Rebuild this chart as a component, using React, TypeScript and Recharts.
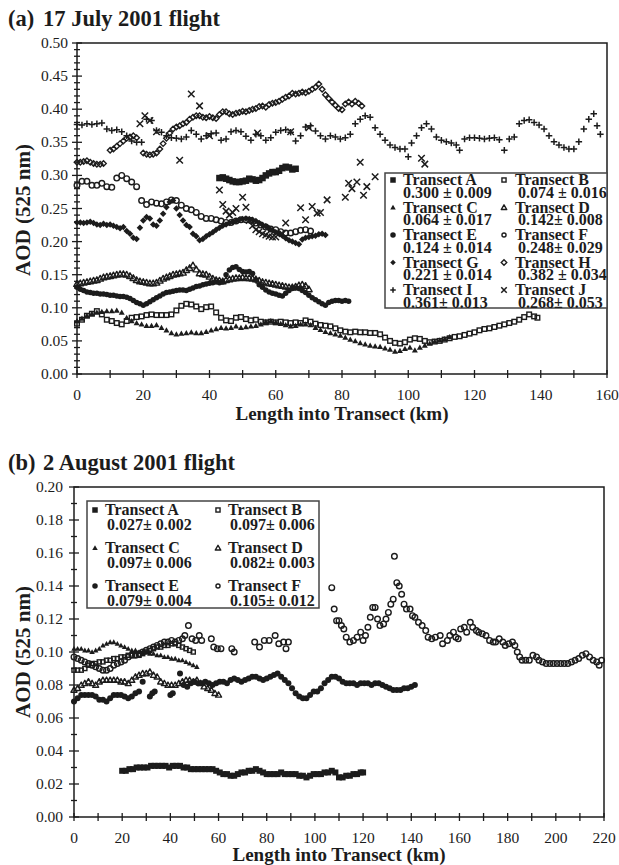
import { ReferenceArea, Scatter, ScatterChart, XAxis, YAxis } from "recharts";

type Pt = [number, number];
type Kind = "sq" | "osq" | "tri" | "otri" | "dot" | "odot" | "dia" | "odia" | "plus" | "cross";

const INK = "#1c1c1c";
const SERIF = '"Liberation Serif", "Times New Roman", serif';

// 17 July 2001: [km into transect, AOD at 525 nm]
const julyA: Pt[] = [[43,.296],[44,.297],[45,.295],[46,.293],[47,.291],[48,.29],[49,.29],[50,.291],[51,.292],[52,.295],[53,.294],[54,.292],[55,.293],[56,.296],[57,.3],[58,.303],[59,.305],[60,.305],[61,.307],[62,.311],[63,.313],[64,.312],[65,.309],[66,.31]];
const julyB: Pt[] = [[0,.076],[1.5,.082],[3,.088],[4.5,.091],[6,.095],[7.5,.09],[9,.082],[10.5,.08],[12,.077],[13.5,.075],[15,.08],[16.5,.085],[18,.086],[19.5,.087],[21,.089],[22.5,.09],[24,.089],[25.5,.089],[27,.089],[28.5,.09],[30,.096],[31.5,.103],[33,.106],[34.5,.105],[36,.102],[37.5,.098],[39,.101],[40.5,.102],[42,.093],[43.5,.085],[45,.081],[46.5,.08],[48,.085],[49.5,.086],[51,.083],[52.5,.081],[54,.082],[55.5,.079],[57,.078],[58.5,.079],[60,.078],[61.5,.079],[63,.078],[64.5,.077],[66,.078],[67.5,.077],[69,.081],[70.5,.079],[72,.076],[73.5,.074],[75,.073],[76.5,.072],[78,.069],[79.5,.066],[81,.064],[82.5,.063],[84,.064],[85.5,.063],[87,.063],[88.5,.062],[90,.062],[91.5,.06],[93,.055],[94.5,.05],[96,.047],[97.5,.046],[99,.048],[100.5,.052],[102,.054],[103.5,.053],[105,.05],[106.5,.048],[108,.049],[109.5,.05],[111,.052],[112.5,.054],[114,.056],[115.5,.057],[117,.059],[118.5,.061],[120,.063],[121.5,.066],[123,.068],[124.5,.069],[126,.071],[127.5,.073],[129,.075],[130.5,.077],[132,.079],[133.5,.082],[135,.086],[136.5,.09],[138,.087],[139,.085]];
const julyC: Pt[] = [[0,.08],[1.5,.084],[3,.088],[4.5,.091],[6,.093],[7.5,.094],[9,.095],[10.5,.095],[12,.096],[13.5,.093],[15,.085],[16.5,.08],[18,.077],[19.5,.075],[21,.073],[22.5,.073],[24,.074],[25.5,.07],[27,.066],[28.5,.062],[30,.06],[31.5,.061],[33,.062],[34.5,.063],[36,.062],[37.5,.062],[39,.064],[40.5,.066],[42,.068],[43.5,.07],[45,.069],[46.5,.07],[48,.072],[49.5,.07],[51,.071],[52.5,.072],[54,.073],[55.5,.075],[57,.079],[58.5,.08],[60,.078],[61.5,.076],[63,.074],[64.5,.072],[66,.073],[67.5,.075],[69,.075],[70.5,.074],[72,.07],[73.5,.067],[75,.064],[76.5,.062],[78,.06],[79.5,.058],[81,.055],[82.5,.052],[84,.05],[85.5,.047],[87,.045],[88.5,.043],[90,.042],[91.5,.041],[93,.039],[94.5,.037],[96,.034],[97.5,.035],[99,.038],[100.5,.04],[102,.036],[103.5,.04],[105,.043],[106.5,.046],[108,.049],[109.5,.051],[111,.053],[112.5,.056]];
const julyD: Pt[] = [[0,.136],[1,.137],[2,.138],[3,.139],[4,.14],[5,.141],[6,.142],[7,.144],[8,.146],[9,.147],[10,.148],[11,.149],[12,.15],[13,.151],[14,.151],[15,.15],[16,.148],[17,.145],[18,.142],[19,.14],[20,.139],[21,.138],[22,.137],[23,.137],[24,.138],[25,.141],[26,.144],[27,.146],[28,.148],[29,.15],[30,.151],[31,.152],[32,.153],[33,.157],[34,.16],[35,.164],[36,.158],[37,.152],[38,.151],[39,.15],[40,.147],[41,.144],[42,.142],[43,.141],[44,.14],[45,.142],[46,.143],[47,.144],[48,.145],[49,.145],[50,.146],[51,.145],[52,.145],[53,.144],[54,.143],[55,.141],[56,.139],[57,.138],[58,.137],[59,.136],[60,.135],[61,.134],[62,.133],[63,.132],[64,.131],[65,.131],[66,.132],[67,.134],[68,.135],[69,.133],[70,.128]];
const julyE: Pt[] = [[0,.131],[1,.128],[2,.126],[3,.124],[4,.123],[5,.122],[6,.122],[7,.121],[8,.121],[9,.12],[10,.119],[11,.119],[12,.118],[13,.117],[14,.117],[15,.116],[16,.114],[17,.111],[18,.108],[19,.106],[20,.104],[21,.106],[22,.109],[23,.112],[24,.115],[25,.118],[26,.121],[27,.123],[28,.124],[29,.125],[30,.126],[31,.127],[32,.127],[33,.126],[34,.128],[35,.13],[36,.132],[37,.133],[38,.135],[39,.136],[40,.137],[41,.138],[42,.139],[43,.138],[44,.139],[45,.15],[46,.157],[47,.161],[48,.162],[49,.158],[50,.155],[51,.154],[52,.155],[53,.152],[54,.142],[55,.135],[56,.131],[57,.127],[58,.124],[59,.122],[60,.121],[61,.119],[62,.118],[63,.122],[64,.126],[65,.129],[66,.13],[67,.129],[68,.126],[69,.123],[70,.119],[71,.115],[72,.112],[73,.109],[74,.106],[75,.104],[76,.108],[77,.11],[78,.111],[79,.111],[80,.11],[81,.111],[82,.11]];
const julyF: Pt[] = [[0,.285],[1.5,.291],[3,.291],[4.5,.285],[6,.285],[7.5,.288],[9,.283],[10.5,.282],[12,.296],[13.5,.3],[15,.295],[16.5,.29],[18,.283],[19.5,.262],[21,.256],[22.5,.26],[24,.258],[25.5,.257],[27,.26],[28.5,.263],[30,.262],[31.5,.255],[33,.25],[34.5,.248],[36,.244],[37.5,.238],[39,.235],[40.5,.235],[42,.233],[43.5,.231],[45,.229],[46.5,.229],[48,.231],[49.5,.233],[51,.233],[52.5,.232],[54,.228],[55.5,.225],[57,.222],[58.5,.219],[60,.218],[61.5,.215],[63,.213],[64.5,.213],[66,.215],[67.5,.217],[69,.218],[70.5,.216]];
const julyG: Pt[] = [[0,.229],[1,.229],[2,.228],[3,.229],[4,.23],[5,.228],[6,.226],[7,.225],[8,.227],[9,.225],[10,.226],[11,.224],[12,.222],[13,.22],[14,.222],[15,.216],[16,.212],[17,.206],[18,.204],[19,.221],[20,.232],[21,.237],[22,.235],[23,.226],[24,.224],[25,.232],[26,.242],[27,.252],[28,.26],[29,.262],[30,.25],[31,.24],[32,.232],[33,.225],[34,.222],[35,.212],[36,.208],[37,.202],[38,.204],[39,.208],[40,.211],[41,.214],[42,.218],[43,.221],[44,.224],[45,.226],[46,.228],[47,.23],[48,.231],[49,.233],[50,.234],[51,.235],[52,.234],[53,.233],[54,.231],[55,.228],[56,.225],[57,.223],[58,.22],[59,.217],[60,.214],[61,.212],[62,.209],[63,.205],[64,.202],[65,.2],[66,.198],[67,.196],[68,.203],[69,.206],[70,.207],[71,.208],[72,.209],[73,.211],[74,.212],[75,.21]];
const julyH: Pt[] = [[0,.32],[1,.32],[2,.321],[3,.322],[4,.32],[5,.318],[6,.317],[7,.317],[8,.318],[10,.338],[11,.34],[12,.344],[13,.348],[14,.352],[15,.356],[16,.358],[17,.36],[18,.357],[20,.334],[21,.332],[22,.331],[23,.332],[24,.334],[25,.34],[26,.348],[27,.356],[28,.364],[29,.37],[30,.373],[31,.375],[32,.378],[33,.38],[34,.385],[35,.388],[36,.39],[37,.39],[38,.388],[39,.387],[40,.389],[41,.387],[42,.386],[43,.392],[44,.396],[45,.396],[46,.393],[47,.392],[48,.394],[49,.395],[50,.397],[51,.396],[52,.398],[53,.4],[54,.401],[55,.404],[56,.405],[57,.403],[58,.407],[59,.409],[60,.41],[61,.412],[62,.415],[63,.418],[64,.42],[65,.424],[66,.423],[67,.424],[68,.426],[69,.425],[70,.427],[71,.43],[72,.433],[73,.438],[74,.43],[75,.422],[76,.416],[77,.411],[78,.406],[79,.401],[80,.399],[81,.408],[82,.411],[83,.408],[84,.412],[85,.409],[86,.405]];
const julyI: Pt[] = [[0,.377],[1.5,.376],[3,.378],[4.5,.377],[6,.378],[7.5,.379],[9,.37],[10.5,.368],[12,.369],[13.5,.366],[15,.36],[16.5,.352],[18,.35],[19.5,.35],[21,.385],[22.5,.383],[24,.368],[25.5,.365],[27,.36],[28.5,.357],[30,.356],[31.5,.355],[33,.358],[34.5,.368],[36,.362],[37.5,.355],[39,.36],[40.5,.363],[42,.364],[43.5,.353],[45,.355],[46.5,.366],[48,.368],[49.5,.366],[51,.359],[52.5,.353],[54,.362],[55.5,.36],[57,.353],[58.5,.357],[60,.365],[61.5,.368],[63,.369],[64.5,.365],[66,.352],[67.5,.36],[69,.373],[70.5,.375],[72,.367],[73.5,.36],[75,.355],[76.5,.36],[78,.358],[79.5,.355],[81,.357],[82.5,.362],[84,.378],[85.5,.385],[87,.39],[88.5,.388],[90,.372],[91.5,.362],[93,.353],[94.5,.346],[96,.342],[97.5,.34],[99,.34],[100,.328],[101,.349],[102.5,.36],[104,.372],[105.5,.378],[107,.37],[108.5,.358],[110,.353],[111.5,.351],[113,.349],[114.5,.346],[115.5,.338],[117,.355],[118.5,.357],[120,.357],[121.5,.356],[123,.355],[124.5,.356],[126,.357],[127.5,.354],[129,.338],[130.5,.355],[132,.358],[133.5,.378],[135,.383],[136.5,.384],[138,.38],[139.5,.376],[141,.37],[142.5,.36],[144,.351],[145.5,.346],[147,.342],[148.5,.34],[150,.34],[151.5,.351],[153,.37],[154.5,.385],[156,.393],[157,.375],[158,.362]];
const julyJ: Pt[] = [[19,.378],[20.5,.39],[22,.383],[24,.366],[31,.323],[34.5,.423],[37,.405],[40,.36],[43,.278],[44,.256],[45,.246],[46,.24],[47,.244],[48,.25],[50,.267],[51,.252],[52,.232],[53,.224],[54,.218],[54.5,.364],[55,.215],[56,.212],[57,.21],[58,.208],[59,.207],[60,.207],[62,.212],[63,.228],[64.5,.366],[67.5,.251],[69,.233],[70,.372],[71,.253],[72.5,.243],[73.5,.244],[75.5,.263],[81,.267],[82,.288],[83,.28],[84.5,.29],[85.5,.32],[86.5,.27],[87.5,.283],[90,.298],[104,.326],[105,.317]];

// 2 August 2001
const augA: Pt[] = [[20,.028],[21.5,.028],[23,.029],[24.5,.029],[26,.03],[27.5,.03],[29,.03],[30.5,.03],[32,.031],[33.5,.031],[35,.031],[36.5,.031],[38,.031],[39.5,.03],[41,.031],[42.5,.031],[44,.031],[45.5,.03],[47,.03],[48.5,.029],[50,.029],[51.5,.029],[53,.029],[54.5,.029],[56,.029],[57.5,.029],[59,.028],[60.5,.027],[62,.026],[63.5,.026],[65,.025],[66.5,.025],[68,.026],[69.5,.027],[71,.027],[72.5,.028],[74,.028],[75.5,.029],[77,.028],[78.5,.027],[80,.026],[81.5,.026],[83,.026],[84.5,.026],[86,.027],[87.5,.026],[89,.026],[90.5,.026],[92,.026],[93.5,.025],[95,.025],[96.5,.024],[98,.025],[99.5,.026],[101,.026],[102.5,.026],[104,.027],[105.5,.027],[107,.028],[108.5,.027],[110,.024],[111.5,.024],[113,.025],[114.5,.025],[116,.026],[117.5,.026],[119,.027],[120,.027]];
const augB: Pt[] = [[0,.089],[1.5,.089],[3,.089],[4.5,.09],[6,.092],[7.5,.093],[9,.093],[10.5,.094],[12,.094],[13.5,.095],[15,.095],[16.5,.096],[18,.096],[19.5,.097],[21,.097],[22.5,.098],[24,.098],[25.5,.098],[27,.098],[28.5,.099],[30,.1],[31.5,.101],[33,.102],[34.5,.103],[36,.103],[37.5,.104],[39,.104],[40.5,.105],[42,.105],[43.5,.104],[45,.103],[46.5,.102],[48,.101],[49.5,.1]];
const augC: Pt[] = [[0,.102],[1.5,.102],[3,.102],[4.5,.101],[6,.101],[7.5,.1],[9,.101],[10.5,.102],[12,.104],[13.5,.105],[15,.106],[16.5,.106],[18,.105],[19.5,.104],[21,.103],[22.5,.102],[24,.101],[25.5,.101],[27,.1],[28.5,.1],[30,.1],[31.5,.099],[33,.099],[34.5,.098],[36,.098],[37.5,.097],[39,.097],[40.5,.096],[42,.096],[43.5,.095],[45,.095],[46.5,.094],[48,.093],[49.5,.092],[51,.091]];
const augD: Pt[] = [[0,.077],[1.5,.078],[3,.08],[4.5,.081],[6,.082],[7.5,.081],[9,.08],[10.5,.082],[12,.083],[13.5,.083],[15,.083],[16.5,.083],[18,.083],[19.5,.082],[21,.082],[22.5,.081],[24,.083],[25.5,.085],[27,.086],[28.5,.087],[30,.087],[31.5,.088],[33,.086],[34.5,.085],[36,.082],[37.5,.081],[39,.08],[40.5,.08],[42,.08],[43.5,.081],[45,.082],[46.5,.083],[48,.083],[49.5,.082],[51,.083],[52.5,.081],[54,.079],[55.5,.078],[57,.077],[58.5,.075],[60,.074]];
const augE: Pt[] = [[0,.07],[1.5,.072],[3,.074],[4.5,.074],[6,.074],[7.5,.074],[9,.073],[10.5,.071],[12,.071],[13.5,.07],[15,.072],[16.5,.074],[18,.074],[19.5,.074],[21,.073],[22.5,.072],[24,.073],[25.5,.075],[27,.076],[28.5,.082],[31.5,.073],[32.5,.075],[33.5,.076],[40,.074],[41,.075],[44,.087],[45.5,.08],[47,.079],[48.5,.081],[50,.082],[51.5,.081],[53,.081],[54.5,.082],[56,.081],[57.5,.08],[59,.081],[60.5,.082],[62,.082],[63.5,.081],[65,.083],[66.5,.084],[68,.083],[69.5,.082],[71,.083],[72.5,.084],[74,.085],[75.5,.085],[77,.084],[78.5,.083],[80,.084],[81.5,.085],[83,.086],[84.5,.087],[86,.085],[87.5,.083],[89,.081],[90.5,.078],[92,.075],[93.5,.073],[95,.072],[96.5,.072],[98,.074],[99.5,.076],[101,.076],[102.5,.078],[104,.081],[105.5,.083],[107,.085],[108.5,.085],[110,.084],[111.5,.082],[113,.081],[114.5,.081],[116,.081],[117.5,.08],[119,.081],[120.5,.081],[122,.081],[123.5,.08],[125,.081],[126.5,.081],[128,.08],[129.5,.079],[131,.078],[132.5,.077],[134,.077],[135.5,.077],[137,.078],[138.5,.078],[140,.079],[141.5,.08]];
const augF: Pt[] = [[0,.097],[1.5,.096],[3,.095],[4.5,.094],[6,.093],[7.5,.092],[9,.091],[10.5,.09],[12,.089],[13.5,.089],[15,.09],[16.5,.092],[18,.093],[19.5,.094],[21,.095],[22.5,.097],[24,.098],[25.5,.098],[27,.099],[28.5,.1],[30,.101],[31.5,.102],[33,.103],[34.5,.104],[36,.105],[37.5,.106],[39,.106],[40.5,.107],[42,.106],[43.5,.107],[45,.108],[46,.11],[47.5,.116],[49,.108],[50.5,.107],[52,.11],[53,.107],[57,.108],[58,.103],[59.5,.102],[61,.102],[65.5,.102],[66.5,.1],[75,.106],[77,.103],[79,.107],[81,.107],[83.5,.11],[85,.105],[87,.106],[88,.102],[89,.106],[107,.139],[108,.126],[109,.119],[110,.119],[111,.116],[112,.114],[113,.109],[114.5,.106],[116,.107],[117.5,.109],[119,.112],[120,.107],[121,.11],[122,.115],[123,.121],[124,.127],[125,.127],[126,.12],[127,.116],[128.5,.117],[129.5,.12],[130.5,.124],[131.5,.129],[132.5,.132],[133,.158],[134,.142],[135,.14],[136,.135],[137,.129],[138,.126],[139.5,.126],[140.5,.122],[141.5,.121],[143,.118],[144.5,.116],[146,.113],[147,.109],[148.5,.108],[150,.109],[152,.11],[153,.105],[155,.107],[156,.11],[157.5,.112],[158.5,.109],[159.5,.108],[160.5,.114],[162,.115],[163,.112],[164.5,.118],[165.5,.115],[167,.113],[168,.112],[169.5,.111],[171,.11],[172.5,.107],[174,.106],[175,.106],[176.5,.108],[178,.106],[179,.104],[180.5,.105],[182,.106],[183,.104],[184,.1],[185,.097],[186,.095],[187.5,.095],[189,.095],[190.5,.098],[192,.097],[193,.095],[194.5,.094],[196,.093],[197.5,.093],[199,.093],[200.5,.093],[202,.093],[203.5,.093],[205,.093],[206.5,.094],[208,.095],[209.5,.096],[211,.098],[212.5,.099],[214,.097],[215.5,.095],[217,.094],[218,.092],[219,.095]];

const julyNames = ["Transect A", "Transect B", "Transect C", "Transect D", "Transect E", "Transect F", "Transect G", "Transect H", "Transect I", "Transect J"];
const julyStats = ["0.300 ± 0.009", "0.074 ± 0.016", "0.064 ± 0.017", "0.142± 0.008", "0.124 ± 0.014", "0.248± 0.029", "0.221 ± 0.014", "0.382 ± 0.034", "0.361± 0.013", "0.268± 0.053"];
const augNames = ["Transect A", "Transect B", "Transect C", "Transect D", "Transect E", "Transect F"];
const augStats = ["0.027± 0.002", "0.097± 0.006", "0.097± 0.006", "0.082± 0.003", "0.079± 0.004", "0.105± 0.012"];

const julyX = [0, 10, 20, 30, 40, 50, 60, 70, 80, 90, 100, 110, 120, 130, 140, 150, 160];
const augX = [0, 10, 20, 30, 40, 50, 60, 70, 80, 90, 100, 110, 120, 130, 140, 150, 160, 170, 180, 190, 200, 210, 220];
const hundredths = (n: number) => Array.from({ length: n + 1 }, (_, i) => i / 100);

const kinds: Kind[] = ["sq", "osq", "tri", "otri", "dot", "odot", "dia", "odia", "plus", "cross"];
const julySizes = [6.5, 6, 6, 6.5, 5.5, 7, 6.5, 5.5, 6.5, 6.5];
const augSizes = [6, 5.5, 5.5, 6, 6, 7];

function Marker({ kind, cx, cy, s }: { kind: Kind; cx: number; cy: number; s: number }) {
  const h = s / 2;
  const sw = 1.4;
  switch (kind) {
    case "sq":
      return <rect x={cx - h} y={cy - h} width={s} height={s} fill={INK} />;
    case "osq":
      return <rect x={cx - h + 0.7} y={cy - h + 0.7} width={s - 1.4} height={s - 1.4} fill="none" stroke={INK} strokeWidth={sw} />;
    case "tri":
    case "otri": {
      const p = `${cx},${cy - h} ${cx + h},${cy + h * 0.75} ${cx - h},${cy + h * 0.75}`;
      return kind === "tri"
        ? <polygon points={p} fill={INK} />
        : <polygon points={p} fill="none" stroke={INK} strokeWidth={sw} strokeLinejoin="round" />;
    }
    case "dot":
      return <circle cx={cx} cy={cy} r={h} fill={INK} />;
    case "odot":
      return <circle cx={cx} cy={cy} r={h - 0.7} fill="none" stroke={INK} strokeWidth={sw} />;
    case "dia":
    case "odia": {
      const p = `${cx},${cy - h} ${cx + h},${cy} ${cx},${cy + h} ${cx - h},${cy}`;
      return kind === "dia"
        ? <polygon points={p} fill={INK} />
        : <polygon points={p} fill="none" stroke={INK} strokeWidth={sw} />;
    }
    case "plus":
      return <path d={`M${cx - h},${cy}H${cx + h}M${cx},${cy - h}V${cy + h}`} stroke={INK} strokeWidth={1.5} />;
    default:
      return <path d={`M${cx - h},${cy - h}L${cx + h},${cy + h}M${cx + h},${cy - h}L${cx - h},${cy + h}`} stroke={INK} strokeWidth={1.5} />;
  }
}

function XTick({ x, y, payload, every }: any) {
  const v = payload.value;
  return (
    <g>
      <line x1={x} x2={x} y1={y - 4} y2={y + 4} stroke={INK} strokeWidth={1.3} />
      {Math.round(v) % every === 0 && (
        <text x={x} y={y + 26} textAnchor="middle" fontFamily={SERIF} fontSize={15.5} fill={INK}>
          {v}
        </text>
      )}
    </g>
  );
}

function YTick({ x, y, payload, every, gap }: any) {
  const v = payload.value;
  const major = Math.round(v * 100) % every === 0;
  const t = major ? 5 : 3;
  return (
    <g>
      <line x1={x - t} x2={x + t} y1={y} y2={y} stroke={INK} strokeWidth={1.3} />
      {major && (
        <text x={x - gap} y={y + 5} textAnchor="end" fontFamily={SERIF} fontSize={15.5} fill={INK}>
          {v.toFixed(2)}
        </text>
      )}
    </g>
  );
}

type PanelProps = {
  top: number;
  height: number;
  margin: { top: number; right: number; bottom: number; left: number };
  xMax: number;
  xTicks: number[];
  xEvery: number;
  yMax: number;
  yTicks: number[];
  yEvery: number;
  yGap: number;
  data: Pt[][];
  sizes: number[];
};

function Panel(p: PanelProps) {
  return (
    <div style={{ position: "absolute", left: 0, top: p.top, width: 619, height: p.height }}>
      <ScatterChart width={619} height={p.height} margin={p.margin} style={{ overflow: "visible" }}>
        <XAxis
          type="number"
          dataKey="km"
          domain={[0, p.xMax]}
          ticks={p.xTicks}
          interval={0}
          height={30}
          tickSize={0}
          tickMargin={0}
          axisLine={false}
          tickLine={false}
          tick={(t: any) => <XTick {...t} every={p.xEvery} />}
        />
        <YAxis
          type="number"
          dataKey="aod"
          domain={[0, p.yMax]}
          ticks={p.yTicks}
          interval={0}
          width={40}
          tickSize={0}
          tickMargin={0}
          axisLine={false}
          tickLine={false}
          tick={(t: any) => <YTick {...t} every={p.yEvery} gap={p.yGap} />}
        />
        <ReferenceArea x1={0} x2={p.xMax} y1={0} y2={p.yMax} fill="none" stroke={INK} strokeWidth={1.5} />
        {p.data.map((pts, i) => (
          <Scatter
            key={i}
            data={pts.map(([km, aod]) => ({ km, aod }))}
            isAnimationActive={false}
            shape={(d: any) => <Marker kind={kinds[i]} cx={d.cx} cy={d.cy} s={p.sizes[i]} />}
          />
        ))}
      </ScatterChart>
    </div>
  );
}

type LegendProps = {
  box: [number, number, number, number];
  names: string[];
  stats: string[];
  sizes: number[];
  marker: [number, number];
  label: [number, number];
  stat: [number, number];
  base: number;
  step: number;
  drop: number;
};

function LegendBox(l: LegendProps) {
  const [bx, by, bw, bh] = l.box;
  return (
    <g>
      <rect x={bx} y={by} width={bw} height={bh} fill="#fff" stroke="#444" strokeWidth={1.5} />
      {l.names.map((name, i) => {
        const col = i % 2;
        const yb = l.base + Math.floor(i / 2) * l.step;
        return (
          <g key={name} fontFamily={SERIF} fontWeight={700} fontSize={16} fill={INK}>
            <Marker kind={kinds[i]} cx={l.marker[col]} cy={yb - 5} s={Math.min(l.sizes[i], 5.5)} />
            <text x={l.label[col]} y={yb}>{name}</text>
            <text x={l.stat[col]} y={yb + l.drop}>{l.stats[i]}</text>
          </g>
        );
      })}
    </g>
  );
}

function Titles() {
  const bold = { fontFamily: SERIF, fontWeight: 700, fill: INK } as const;
  return (
    <svg width={619} height={865} style={{ position: "absolute", left: 0, top: 0, pointerEvents: "none" }}>
      <text x={8} y={26} fontSize={22.5} {...bold}>(a)</text>
      <text x={43} y={26} fontSize={22.5} {...bold}>17 July 2001 flight</text>
      <text x={342} y={420} fontSize={19} textAnchor="middle" {...bold}>Length into Transect (km)</text>
      <text x={30} y={210} fontSize={21} textAnchor="middle" transform="rotate(-90 30 210)" {...bold}>AOD (525 nm)</text>
      <LegendBox
        box={[385, 173, 222, 135]}
        names={julyNames}
        stats={julyStats}
        sizes={julySizes}
        marker={[393, 504]}
        label={[403, 515]}
        stat={[403, 518]}
        base={185}
        step={27.5}
        drop={12.5}
      />

      <text x={8} y={470} fontSize={22.5} {...bold}>(b)</text>
      <text x={43} y={470} fontSize={22.5} {...bold}>2 August 2001 flight</text>
      <text x={339} y={861} fontSize={19} textAnchor="middle" {...bold}>Length into Transect (km)</text>
      <text x={30} y={652} fontSize={21} textAnchor="middle" transform="rotate(-90 30 652)" {...bold}>AOD (525 nm)</text>
      <LegendBox
        box={[87, 501, 232, 107]}
        names={augNames}
        stats={augStats}
        sizes={augSizes}
        marker={[95, 218]}
        label={[105, 228]}
        stat={[107, 230]}
        base={515}
        step={38}
        drop={15}
      />
    </svg>
  );
}

export default function App() {
  return (
    <div style={{ position: "fixed", left: 0, top: 0, width: 619, height: 865, background: "#fff", overflow: "hidden" }}>
      <Panel
        top={0}
        height={420}
        margin={{ top: 43, right: 12, bottom: 16, left: 37 }}
        xMax={160}
        xTicks={julyX}
        xEvery={20}
        yMax={0.5}
        yTicks={hundredths(50)}
        yEvery={5}
        yGap={9}
        data={[julyA, julyB, julyC, julyD, julyE, julyF, julyG, julyH, julyI, julyJ]}
        sizes={julySizes}
      />
      <Panel
        top={440}
        height={425}
        margin={{ top: 47, right: 15, bottom: 18, left: 34 }}
        xMax={220}
        xTicks={augX}
        xEvery={20}
        yMax={0.2}
        yTicks={hundredths(20)}
        yEvery={2}
        yGap={11}
        data={[augA, augB, augC, augD, augE, augF]}
        sizes={augSizes}
      />
      <Titles />
    </div>
  );
}
